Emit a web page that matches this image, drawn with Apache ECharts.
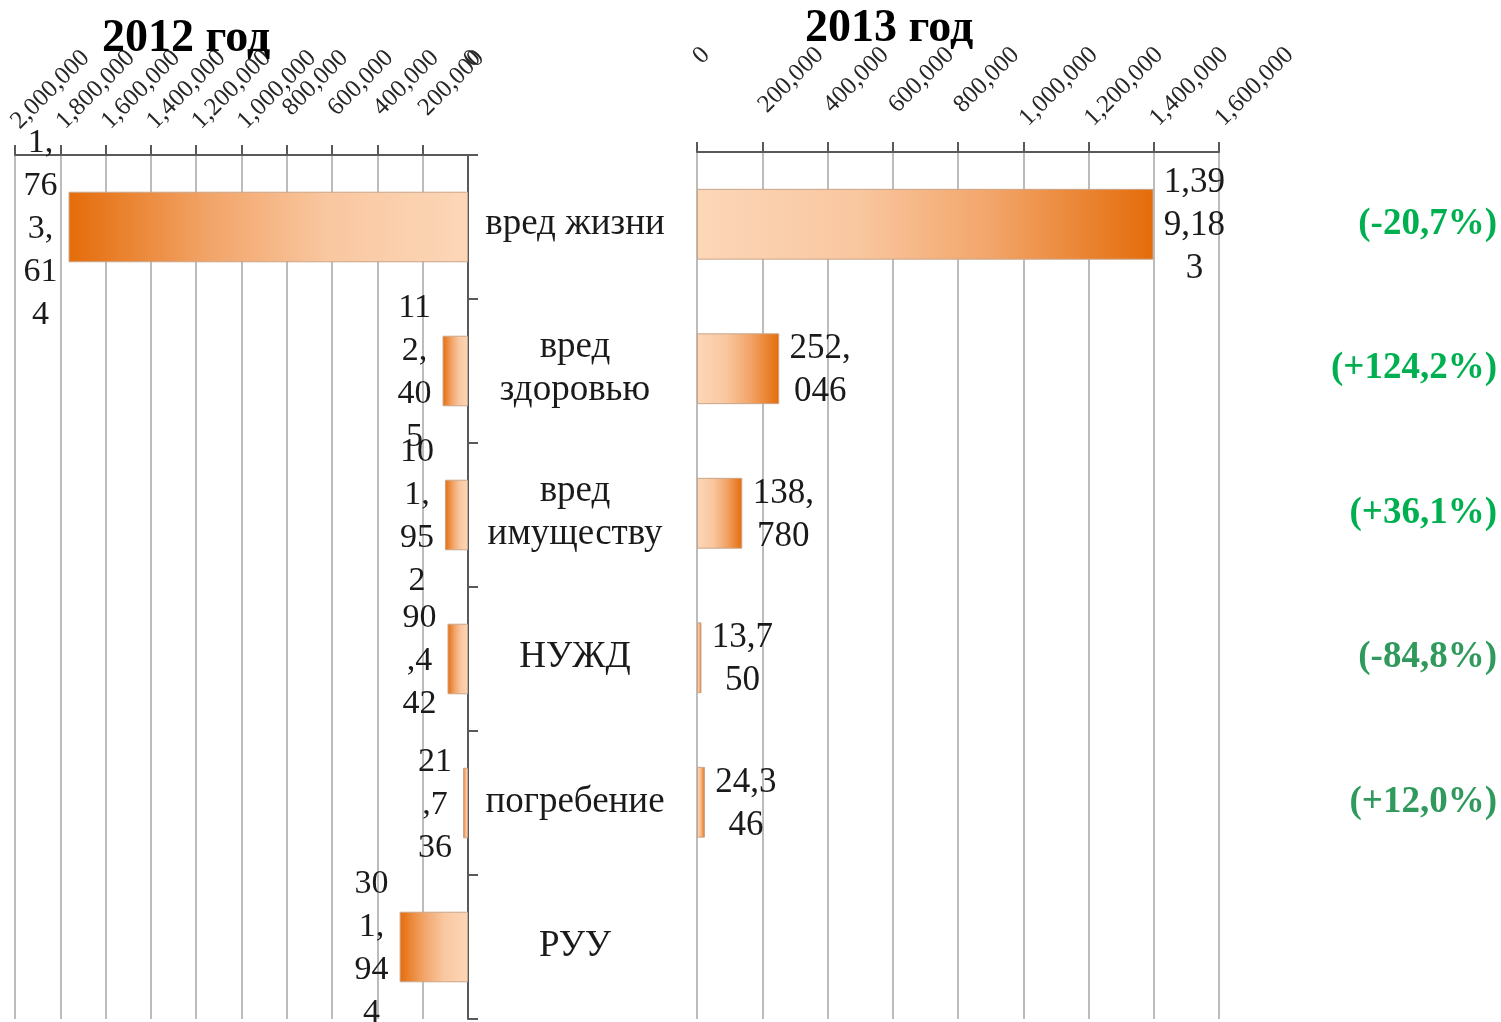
<!DOCTYPE html>
<html>
<head>
<meta charset="utf-8">
<script src="https://cdn.jsdelivr.net/npm/echarts@6/dist/echarts.min.js"></script>
<style>
html,body{margin:0;padding:0;background:#fff;}
#chart{width:1501px;height:1022px;}
</style>
</head>
<body>
<div id="chart"></div>
<script>
// ---- data ----
const categories = ['вред жизни', 'вред\nздоровью', 'вред\nимуществу', 'НУЖД', 'погребение', 'РУУ'];
const values2012 = [1763614, 112405, 101952, 90442, 21736, 301944];
const values2013 = [1399183, 252046, 138780, 13750, 24346, null];
const changes = ['(-20,7%)', '(+124,2%)', '(+36,1%)', '(-84,8%)', '(+12,0%)', ''];
const changeColors = ['#00b050', '#00b050', '#00b050', '#2f9a5c', '#2f9a5c', '#2f9a5c'];
const titles = ['2012 год', '2013 год'];
const axisMax2012 = 2000000, axisMax2013 = 1600000, axisStep = 200000;

const SERIF = '"Liberation Serif", "Times New Roman", serif';
const TICK_FS = 25;

const ctx = document.createElement('canvas').getContext('2d');
ctx.font = TICK_FS + 'px ' + SERIF;
function tw(t) { return ctx.measureText(t).width; }

function tickRich(max) {
  const rich = {};
  const maxW = tw(echarts.format.addCommas(2000000));
  for (let v = 0; v <= max; v += axisStep) {
    const w = tw(echarts.format.addCommas(v));
    const a = (maxW - w) / 2;
    rich['t' + (v / axisStep)] = {
      fontFamily: SERIF, fontSize: TICK_FS, color: '#262626',
      padding: [0, 0, 2 * a, a]
    };
  }
  return rich;
}
function tickFormatter(v) {
  return '{t' + Math.round(v / axisStep) + '|' + echarts.format.addCommas(v) + '}';
}
function zeroOnlyFormatter(v) {
  return v === 0 ? tickFormatter(v) : '';
}
function chunk(v, n) {
  if (v == null) return '';
  const s = echarts.format.addCommas(v);
  const out = [];
  for (let i = 0; i < s.length; i += n) out.push(s.slice(i, i + n));
  return out.join('\n');
}

const gridLine = { show: true, lineStyle: { color: '#a6a6a6', width: 1.5 } };
const axisLineDark = { show: true, lineStyle: { color: '#595959', width: 2 } };

const leftGrad = new echarts.graphic.LinearGradient(0, 0, 1, 0, [
  { offset: 0, color: '#e46c0a' },
  { offset: 0.35, color: '#f2a468' },
  { offset: 0.65, color: '#f9c7a0' },
  { offset: 1, color: '#fcd7b8' }
]);
const rightGrad = new echarts.graphic.LinearGradient(0, 0, 1, 0, [
  { offset: 0, color: '#fcd7b8' },
  { offset: 0.35, color: '#f9c7a0' },
  { offset: 0.65, color: '#f2a468' },
  { offset: 1, color: '#e46c0a' }
]);

function tickLabel(max, fmt, showMin) {
  return {
    rotate: -45, margin: 30, verticalAlign: 'middle',
    showMinLabel: showMin, showMaxLabel: true, hideOverlap: false,
    formatter: fmt, rich: tickRich(max)
  };
}

const chart = echarts.init(document.getElementById('chart'));
chart.setOption({
  animation: false,
  backgroundColor: '#fff',
  title: [
    { text: titles[0], left: 97, top: 11, textStyle: { fontFamily: SERIF, fontSize: 46, fontWeight: 'bold', color: '#000' } },
    { text: titles[1], left: 800, top: 1, textStyle: { fontFamily: SERIF, fontSize: 46, fontWeight: 'bold', color: '#000' } }
  ],
  grid: [
    { left: 15, right: 1501 - 468, top: 155, bottom: 3, outerBoundsMode: 'none', containLabel: false },
    { left: 697, right: 1501 - 1219, top: 152, bottom: 3, outerBoundsMode: 'none', containLabel: false }
  ],
  xAxis: [
    {
      gridIndex: 0, type: 'value', position: 'top', inverse: true,
      min: 0, max: axisMax2012, interval: axisStep,
      axisLine: axisLineDark,
      axisTick: { show: true, inside: false, length: 10, lineStyle: { color: '#595959', width: 2 } },
      splitLine: gridLine,
      axisLabel: tickLabel(axisMax2012, tickFormatter, false)
    },
    {
      gridIndex: 1, type: 'value', position: 'top',
      min: 0, max: axisMax2013, interval: axisStep,
      axisLine: axisLineDark,
      axisTick: { show: true, inside: false, length: 10, lineStyle: { color: '#595959', width: 2 } },
      splitLine: gridLine,
      axisLabel: tickLabel(axisMax2013, tickFormatter, true)
    },
    {
      // carries only the "0" tick label of the 2012 axis
      gridIndex: 0, type: 'value', position: 'top', inverse: true, offset: 0,
      min: 0, max: axisMax2012, interval: axisStep,
      axisLine: { show: false }, axisTick: { show: false }, splitLine: { show: false },
      axisLabel: tickLabel(axisMax2012, zeroOnlyFormatter, true)
    }
  ],
  yAxis: [
    {
      gridIndex: 0, type: 'category', data: categories, inverse: true, position: 'right',
      axisLine: axisLineDark,
      axisTick: { show: true, inside: false, length: 10, lineStyle: { color: '#595959', width: 2 } },
      axisLabel: { show: false }
    },
    {
      gridIndex: 1, type: 'category', data: categories, inverse: true, position: 'left',
      axisLine: { show: false }, axisTick: { show: false },
      axisLabel: { margin: 122, align: 'center', fontFamily: SERIF, fontSize: 37, lineHeight: 43, color: '#1a1a1a', padding: [8, 0, 0, 0] }
    },
    {
      gridIndex: 1, type: 'category', data: changes, inverse: true, position: 'right',
      axisLine: { show: false }, axisTick: { show: false },
      axisLabel: {
        margin: 278, align: 'right', fontFamily: SERIF, fontSize: 37, fontWeight: 'bold', padding: [8, 0, 0, 0],
        color: function (v, i) { return changeColors[i]; }
      }
    }
  ],
  series: [
    {
      type: 'bar', xAxisIndex: 0, yAxisIndex: 0, data: values2012, barWidth: '49%',
      itemStyle: { color: leftGrad, borderColor: '#c9a58a', borderWidth: 1 },
      label: {
        show: true, position: 'left', distance: 11, align: 'center', offset: [-17, 2],
        fontFamily: SERIF, fontSize: 34, lineHeight: 43, color: '#1a1a1a',
        formatter: function (p) { return chunk(p.value, 2); }
      }
    },
    {
      type: 'bar', xAxisIndex: 1, yAxisIndex: 1, data: values2013, barWidth: '49%',
      itemStyle: { color: rightGrad, borderColor: '#c9a58a', borderWidth: 1 },
      label: {
        show: true, position: 'right', distance: 10, align: 'center', offset: [31, 2],
        fontFamily: SERIF, fontSize: 35, lineHeight: 43, color: '#1a1a1a',
        formatter: function (p) { return chunk(p.value, 4); }
      }
    }
  ]
});
</script>
</body>
</html>
